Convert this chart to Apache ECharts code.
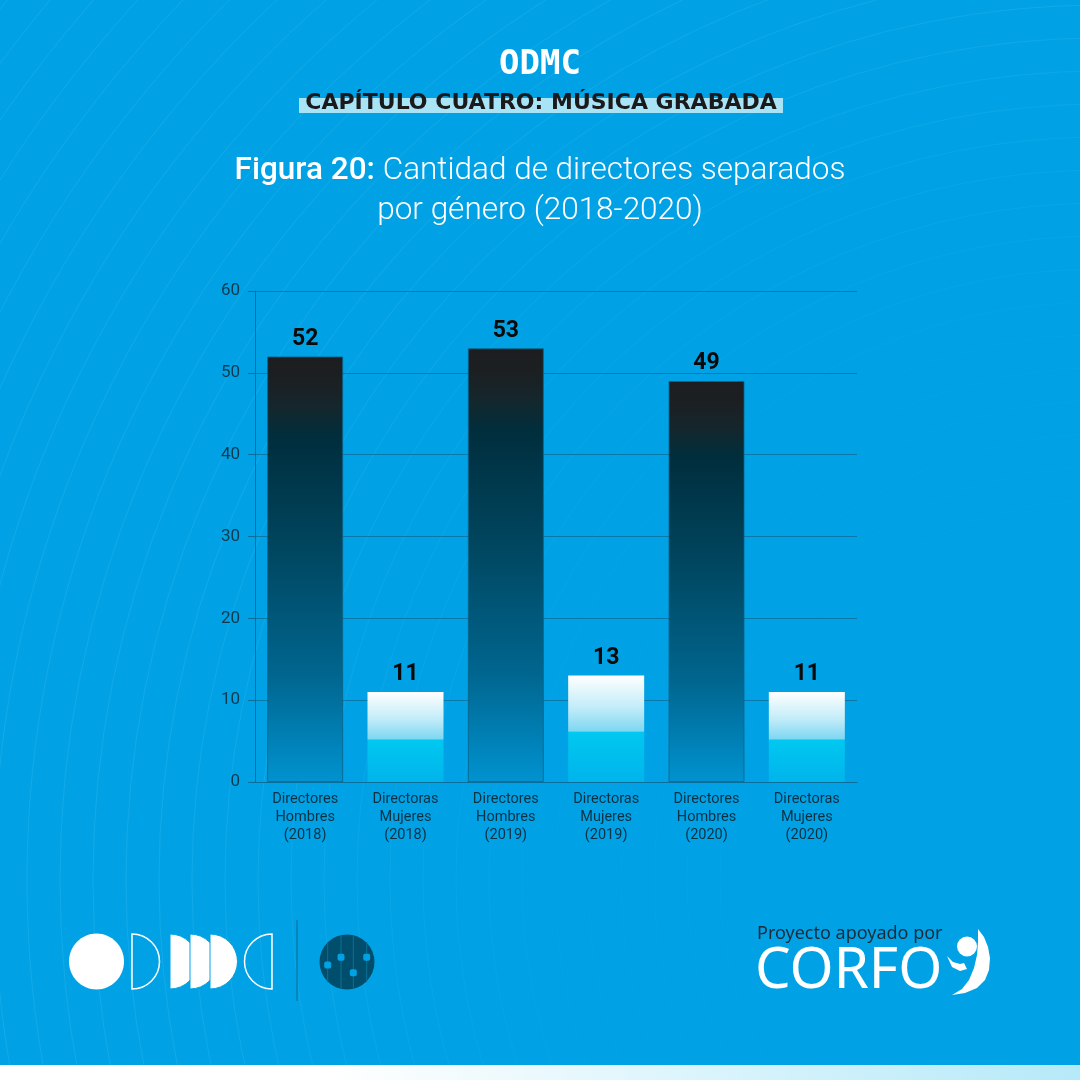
<!DOCTYPE html>
<html>
<head>
<meta charset="utf-8">
<script src="https://cdn.jsdelivr.net/npm/echarts@6/dist/echarts.min.js"></script>
<style>html,body{margin:0;padding:0;background:#00a2e5;}#c{width:1080px;height:1080px;}</style>
</head>
<body>
<div id="c"></div>
<script>
const categories = [
  'Directores\nHombres\n(2018)', 'Directoras\nMujeres\n(2018)',
  'Directores\nHombres\n(2019)', 'Directoras\nMujeres\n(2019)',
  'Directores\nHombres\n(2020)', 'Directoras\nMujeres\n(2020)'
];
const values = [52, 11, 53, 13, 49, 11];
const genders = ['H', 'M', 'H', 'M', 'H', 'M'];
const yTicks = { min: 0, max: 60, interval: 10 };

const chart = echarts.init(document.getElementById('c'), null, { renderer: 'canvas' });

const darkGrad = new echarts.graphic.LinearGradient(0, 0, 0, 1, [
  { offset: 0, color: '#1d1d1f' },
  { offset: 0.06, color: '#1b2023' },
  { offset: 0.12, color: '#14272d' },
  { offset: 0.19, color: '#002e3d' },
  { offset: 0.45, color: '#00465f' },
  { offset: 0.75, color: '#00668f' },
  { offset: 0.92, color: '#0084bb' },
  { offset: 1, color: '#0093d0' }
]);
const lightGrad = new echarts.graphic.LinearGradient(0, 0, 0, 1, [
  { offset: 0, color: '#ffffff' },
  { offset: 0.3, color: '#c2ecf9' },
  { offset: 0.52, color: '#7fd7f2' },
  { offset: 0.535, color: '#00c8f0' },
  { offset: 1, color: '#00b4ec' }
]);

// background concentric arcs (decoration)
const arcs = [];
for (let r = 380; r <= 1700; r += 33) {
  const a = Math.min(0.08, Math.max(0.015, (r - 450) / 6000));
  arcs.push({
    type: 'circle', silent: true, z: -10,
    shape: { cx: 1100, cy: 880, r: r },
    style: { fill: null, stroke: 'rgba(255,255,255,' + a.toFixed(3) + ')', lineWidth: 1 }
  });
}

const H = Math.PI / 2;
const logo = [
  { type: 'line', shape: { x1: 297, y1: 920, x2: 297, y2: 1001 }, style: { stroke: '#0b6a92', lineWidth: 1 } },
  { type: 'ellipse', shape: { cx: 96.5, cy: 961.5, rx: 27.5, ry: 28 }, style: { fill: '#ffffff' } },
  { type: 'sector', shape: { cx: 132, cy: 961.5, r: 27.5, r0: 0, startAngle: -H, endAngle: H }, style: { fill: null, stroke: '#ffffff', lineWidth: 1.5 } },
  { type: 'sector', shape: { cx: 170, cy: 961.5, r: 27.5, r0: 0, startAngle: -H, endAngle: H }, style: { fill: '#ffffff', stroke: '#00a2e5', lineWidth: 1 } },
  { type: 'sector', shape: { cx: 190, cy: 961.5, r: 27.5, r0: 0, startAngle: -H, endAngle: H }, style: { fill: '#ffffff', stroke: '#00a2e5', lineWidth: 1 } },
  { type: 'sector', shape: { cx: 210, cy: 961.5, r: 27.5, r0: 0, startAngle: -H, endAngle: H }, style: { fill: '#ffffff', stroke: '#00a2e5', lineWidth: 1 } },
  { type: 'sector', shape: { cx: 272, cy: 961.5, r: 27.5, r0: 0, startAngle: H, endAngle: 3 * H }, style: { fill: null, stroke: '#ffffff', lineWidth: 1.5 } },
  { type: 'circle', shape: { cx: 347, cy: 962, r: 27.5 }, style: { fill: '#004e6b' } },
  { type: 'line', shape: { x1: 327.7, y1: 942, x2: 327.7, y2: 982 }, style: { stroke: '#0a7098', lineWidth: 1 } },
  { type: 'line', shape: { x1: 341, y1: 935, x2: 341, y2: 989 }, style: { stroke: '#0a7098', lineWidth: 1 } },
  { type: 'line', shape: { x1: 353.3, y1: 935, x2: 353.3, y2: 989 }, style: { stroke: '#0a7098', lineWidth: 1 } },
  { type: 'line', shape: { x1: 366.7, y1: 942, x2: 366.7, y2: 982 }, style: { stroke: '#0a7098', lineWidth: 1 } },
  { type: 'rect', shape: { x: 324.2, y: 961.5, width: 7, height: 7, r: 2 }, style: { fill: '#00a2e5' } },
  { type: 'rect', shape: { x: 337.5, y: 953.8, width: 7, height: 7, r: 2 }, style: { fill: '#00a2e5' } },
  { type: 'rect', shape: { x: 349.8, y: 969.2, width: 7, height: 7, r: 2 }, style: { fill: '#00a2e5' } },
  { type: 'rect', shape: { x: 363.2, y: 953.8, width: 7, height: 7, r: 2 }, style: { fill: '#00a2e5' } },
  { type: 'text', x: 757, y: 934, style: { text: 'Proyecto apoyado por', fill: '#1c2b3a', font: '18px "Noto Sans"', textAlign: 'left', textVerticalAlign: 'middle' } },
  { type: 'text', x: 755, y: 972, style: { text: 'CORFO', fill: '#ffffff', font: '56.5px "Noto Sans"', textAlign: 'left', textVerticalAlign: 'middle' } },
  { type: 'circle', shape: { cx: 967, cy: 946.5, r: 10 }, style: { fill: '#ffffff' } },
  { type: 'polygon', shape: { points: [[978,929],[984,937],[988,947],[990,958],[989,970],[985,980],[977,988],[965,993],[952,995],[962,989],[969,980],[974,968],[977,955],[978,942]] }, style: { fill: '#ffffff' } },
  { type: 'polygon', shape: { points: [[947,956],[953,962],[960,964],[964,963],[967,969],[960,971],[952,967]] }, style: { fill: '#ffffff' } },
  { type: 'rect', shape: { x: 0, y: 1065, width: 1080, height: 15 },
    style: { fill: new echarts.graphic.LinearGradient(0, 0, 1, 0, [
      { offset: 0, color: '#ffffff' }, { offset: 0.3, color: '#ffffff' }, { offset: 1, color: '#b6e9f8' }
    ]) } }
];

const header = [
  { type: 'text', x: 540, y: 65, style: { text: 'ODMC', fill: '#ffffff', font: 'bold 34px "DejaVu Sans Mono"', textAlign: 'center', textVerticalAlign: 'middle' } },
  { type: 'rect', shape: { x: 299, y: 98, width: 484, height: 15 }, style: { fill: '#a8e4f6' } },
  { type: 'text', x: 541, y: 103, style: { text: 'CAPÍTULO CUATRO: MÚSICA GRABADA', fill: '#1a1a1c', font: 'bold 22px "DejaVu Sans"', textAlign: 'center', textVerticalAlign: 'middle' } },
  { type: 'text', x: 540, y: 171, style: {
      text: '{b|Figura 20: }{l|Cantidad de directores separados}',
      textAlign: 'center', textVerticalAlign: 'middle',
      rich: {
        b: { fill: '#ffffff', font: '500 31.5px Roboto' },
        l: { fill: '#ffffff', font: '300 31.5px Roboto' }
      } } },
  { type: 'text', x: 540, y: 211, style: { text: 'por género (2018-2020)', fill: '#ffffff', font: '300 31.5px Roboto', textAlign: 'center', textVerticalAlign: 'middle' } }
];

const option = {
  backgroundColor: '#00a2e5',
  animation: false,
  grid: { left: 255, top: 291, width: 602, height: 491, containLabel: false },
  xAxis: {
    type: 'category',
    data: categories,
    axisLine: { show: true, lineStyle: { color: '#0a6e9a', width: 1 } },
    axisTick: { show: false },
    axisLabel: { color: '#0b3145', fontSize: 14.5, lineHeight: 18, fontFamily: 'Roboto', margin: 8, interval: 0 }
  },
  yAxis: {
    type: 'value',
    min: yTicks.min, max: yTicks.max, interval: yTicks.interval,
    axisLine: { show: true, lineStyle: { color: '#0a6e9a', width: 1 } },
    axisTick: { show: true, length: 7, lineStyle: { color: '#0a6e9a' } },
    axisLabel: { color: '#0d3a50', fontSize: 17, fontFamily: 'Roboto', margin: 15 },
    splitLine: { show: true, lineStyle: { color: '#0a78a8', width: 1 } }
  },
  series: [{
    type: 'bar',
    barWidth: 76,
    data: values.map((v, i) => ({
      value: v,
      itemStyle: genders[i] === 'H'
        ? { color: darkGrad, borderColor: 'rgba(11,97,133,0.8)', borderWidth: 1 }
        : { color: lightGrad }
    })),
    label: {
      show: true, position: 'top', distance: 6,
      color: '#0a0a0a', fontSize: 23, fontWeight: 'bold', fontFamily: 'Roboto'
    }
  }],
  graphic: arcs.concat(header, logo)
};
chart.setOption(option);
</script>
</body>
</html>
